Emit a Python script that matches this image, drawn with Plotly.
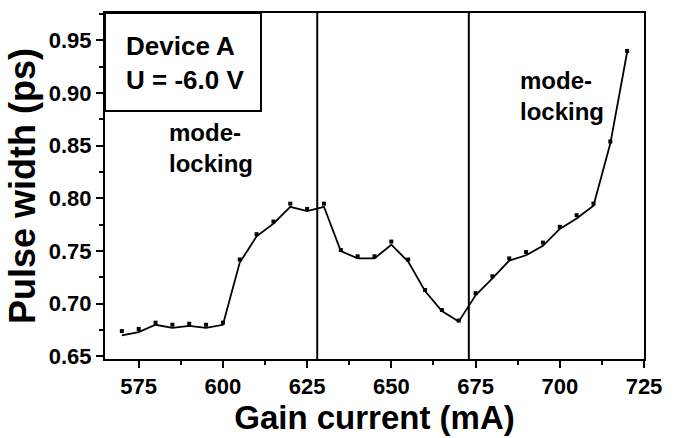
import plotly.graph_objects as go

# Gain current (mA)
current = [570, 575, 580, 585, 590, 595, 600, 605, 610, 615, 620, 625, 630,
           635, 640, 645, 650, 655, 660, 665, 670, 675, 680, 685, 690, 695,
           700, 705, 710, 715, 720]
# Measured pulse width (ps)
width_meas = [0.674, 0.676, 0.682, 0.680, 0.681, 0.680, 0.682, 0.742, 0.766,
              0.778, 0.795, 0.790, 0.795, 0.751, 0.745, 0.745, 0.759, 0.742,
              0.713, 0.694, 0.684, 0.710, 0.726, 0.743, 0.749, 0.758, 0.773,
              0.784, 0.795, 0.854, 0.940]
# Smoothed curve through the measurements (ps)
width_smooth = [0.670, 0.673, 0.680, 0.677, 0.679, 0.677, 0.680, 0.739, 0.764,
                0.776, 0.792, 0.788, 0.792, 0.750, 0.743, 0.743, 0.756, 0.740,
                0.712, 0.693, 0.683, 0.708, 0.724, 0.741, 0.746, 0.755, 0.771,
                0.781, 0.793, 0.852, 0.939]
# Boundaries between operating regimes (mA)
regime_bounds = [628, 673]

x_range = [565, 725]
y_range = [0.6475, 0.976]
x_ticks = [575, 600, 625, 650, 675, 700, 725]
y_ticks = [0.65, 0.70, 0.75, 0.80, 0.85, 0.90, 0.95]

FONT = "Liberation Sans, Arial, sans-serif"

fig = go.Figure()
fig.add_trace(go.Scatter(x=current, y=width_smooth, mode="lines",
                         line=dict(color="black", width=1.8),
                         hoverinfo="skip", showlegend=False))
fig.add_trace(go.Scatter(x=current, y=width_meas, mode="markers",
                         marker=dict(symbol="square", size=4, color="black"),
                         showlegend=False))

for xb in regime_bounds:
    fig.add_shape(type="line", x0=xb, x1=xb, y0=0, y1=1, xref="x", yref="paper",
                  line=dict(color="black", width=2))

# Device label box in the upper-left corner
fig.add_shape(type="rect", x0=x_range[0], x1=611.3, y0=0.883, y1=y_range[1],
              xref="x", yref="y", line=dict(color="black", width=2))
fig.add_annotation(x=570.6, y=0.929, xref="x", yref="y", xanchor="left",
                   yanchor="middle", align="left", showarrow=False,
                   text="<b>Device A<br>U = -6.0 V</b>",
                   font=dict(family=FONT, size=26, color="black"))

fig.add_annotation(x=583.3, y=0.848, xref="x", yref="y", xanchor="left",
                   yanchor="middle", align="left", showarrow=False,
                   text="<b>mode-<br>locking</b>",
                   font=dict(family=FONT, size=24, color="black"))
fig.add_annotation(x=687.5, y=0.897, xref="x", yref="y", xanchor="left",
                   yanchor="middle", align="left", showarrow=False,
                   text="<b>mode-<br>locking</b>",
                   font=dict(family=FONT, size=24, color="black"))

axis_common = dict(showgrid=False, zeroline=False, showline=True,
                   linecolor="black", linewidth=2, mirror=True,
                   ticks="outside", ticklen=7, tickwidth=2, tickcolor="black",
                   tickfont=dict(family=FONT, size=22, color="black"))

fig.update_xaxes(range=x_range, tickvals=x_ticks,
                 ticktext=[f"<b>{v}</b>" for v in x_ticks],
                 minor=dict(dtick=12.5, tick0=575, ticks="outside", ticklen=4,
                            tickwidth=2, tickcolor="black"),
                 title=dict(text="<b>Gain current (mA)</b>", standoff=4,
                            font=dict(family=FONT, size=33, color="black")),
                 **axis_common)
fig.update_yaxes(range=y_range, tickvals=y_ticks,
                 ticktext=[f"<b>{v:.2f}</b>" for v in y_ticks],
                 minor=dict(dtick=0.025, tick0=0.65, ticks="outside", ticklen=4,
                            tickwidth=2, tickcolor="black"),
                 title=dict(text="<b>Pulse width (ps)</b>", standoff=2,
                            font=dict(family=FONT, size=36, color="black")),
                 **axis_common)

fig.update_layout(width=678, height=438, plot_bgcolor="white",
                  paper_bgcolor="white",
                  margin=dict(l=105, r=34, t=11, b=77))

fig.write_html("out.html")
